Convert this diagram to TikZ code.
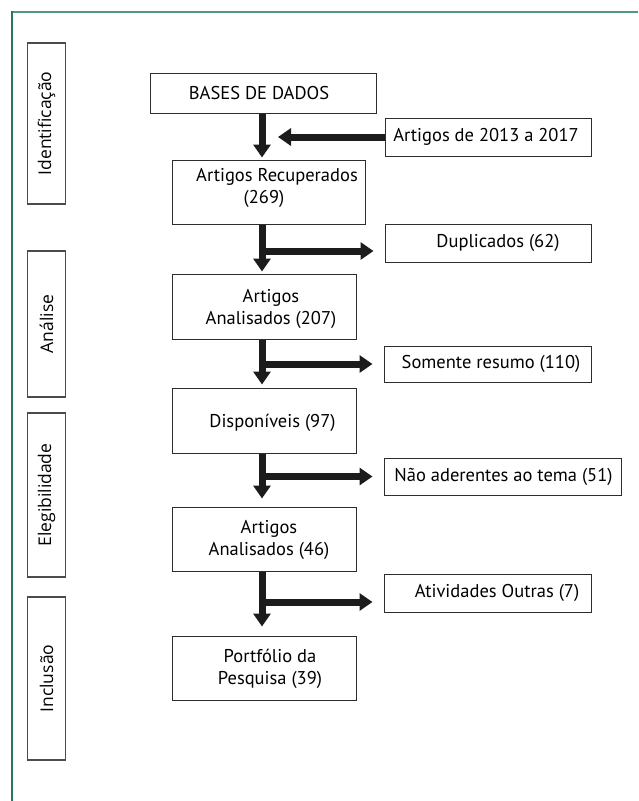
\documentclass[tikz,border=0pt]{standalone}
\usepackage{fontspec}
\setmainfont{PT Sans}
\newfontfamily\labfont{Open Sans}
\usetikzlibrary{arrows.meta,calc}
\definecolor{frametop}{RGB}{82,150,132}
\definecolor{frameleft}{RGB}{38,118,98}
\definecolor{boxline}{RGB}{45,45,45}
\definecolor{arrowc}{RGB}{28,28,28}
\begin{document}
\begin{tikzpicture}[x=1pt,y=-1pt,
  box/.style={draw=boxline,line width=1pt,inner sep=0pt},
  stage/.style={draw=boxline!85,line width=1.2pt,inner sep=0pt,minimum width=38pt},
  lab/.style={font=\labfont\fontsize{17.5}{20}\selectfont,rotate=90,inner sep=0pt},
  txt/.style={font=\fontsize{18.5}{22}\selectfont,align=center,inner sep=0pt},
  arr/.style={draw=arrowc,line width=7pt,-{Triangle[length=13pt,width=17pt]}}
]
\useasboundingbox (0,0) rectangle (638,801);
% frame
\draw[frametop,line width=2pt] (10.7,12) -- (638,12);
\draw[frameleft,line width=2pt] (11.7,11) -- (11.7,801);

% stage boxes
\node[stage,minimum height=161pt] (ident) at (46.5,123.5) {};
\node[lab] at (ident.center) {Identificação};
\node[stage,minimum height=146pt] (anal) at (46.5,324) {};
\node[lab] at (anal.center) {Análise};
\node[stage,minimum height=164pt] (eleg) at (46.5,495) {};
\node[lab] at (eleg.center) {Elegibilidade};
\node[stage,minimum height=163pt] (incl) at (46.5,678.5) {};
\node[lab] at (incl.center) {Inclusão};

% main boxes
\node[box,minimum width=226pt,minimum height=40pt] (bases) at (263,93) {};
\node[txt] at (259,93) {BASES DE DADOS};
\node[box,minimum width=206pt,minimum height=38pt] (y2013) at (488,137) {};
\node[txt] at (486,137) {Artigos de 2013 a 2017};
\node[box,minimum width=193pt,minimum height=64pt] (rec) at (268.5,192) {};
\node[txt] at (264,188) {\hspace*{26pt}Artigos Recuperados\\(269)};
\node[box,minimum width=206pt,minimum height=38pt] (dup) at (488,243) {};
\node[txt] at (498,243) {Duplicados (62)};
\node[box,minimum width=184pt,minimum height=65pt] (ana1) at (264,306.5) {};
\node[txt] at (271,309) {Artigos\\Analisados (207)};
\node[box,minimum width=207pt,minimum height=36pt] (som) at (487.5,364) {};
\node[txt] at (491,364) {Somente resumo (110)};
\node[box,minimum width=184pt,minimum height=65pt] (disp) at (264,420.5) {};
\node[txt] at (272.5,423) {Disponíveis (97)};
\node[box,minimum width=237pt,minimum height=37pt] (nao) at (502.5,476.5) {};
\node[txt] at (503.5,476.5) {Não aderentes ao tema (51)};
\node[box,minimum width=184pt,minimum height=64pt] (ana2) at (264,539) {};
\node[txt] at (269,540) {Artigos\\Analisados (46)};
\node[box,minimum width=207pt,minimum height=38pt] (ativ) at (487.5,593) {};
\node[txt] at (497,593) {Atividades Outras (7)};
\node[box,minimum width=184pt,minimum height=64pt] (port) at (264,668) {};
\node[txt] at (270,669) {Portfólio da\\Pesquisa (39)};

% shaft and helper coordinates
\coordinate (sx) at (262,0);
\coordinate (lt) at (278,137);
\coordinate (d1) at ([yshift=-8pt]dup.west);
\coordinate (d2) at (som.west);
\coordinate (d3) at (nao.west);
\coordinate (d4) at ([yshift=-9pt]ativ.west);

% vertical arrows
\draw[arr] (bases.south -| sx) -- ([yshift=2pt]rec.north -| sx);
\draw[arr] (rec.south -| sx) -- ([yshift=2pt]ana1.north -| sx);
\draw[arr] (ana1.south -| sx) -- ([yshift=3pt]disp.north -| sx);
\draw[arr] (disp.south -| sx) -- ([yshift=8pt]ana2.north -| sx);
\draw[arr] (ana2.south -| sx) -- ([yshift=9pt]port.north -| sx);

% side arrows
\draw[arr] (y2013.west) -- (lt);
\draw[arr] (d1 -| sx) -- ([xshift=-11pt]d1);
\draw[arr] (d2 -| sx) -- ([xshift=-11pt]d2);
\draw[arr] (d3 -| sx) -- ([xshift=-11pt]d3);
\draw[arr] (d4 -| sx) -- ([xshift=-11pt]d4);
\end{tikzpicture}
\end{document}
